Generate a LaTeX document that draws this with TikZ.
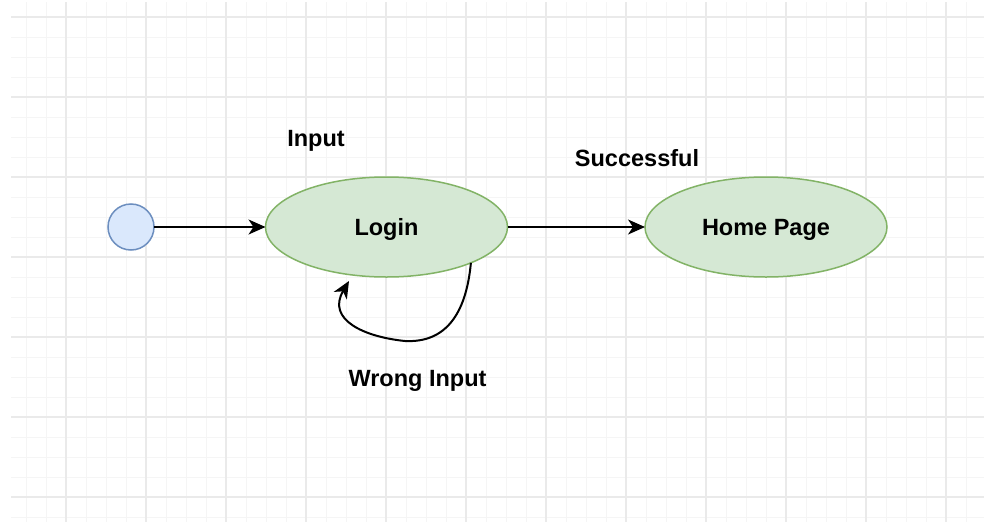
\documentclass[tikz,border=0pt]{standalone}
\usepackage{fontspec}
\setmainfont{Liberation Sans}
\usetikzlibrary{arrows.meta,shapes.geometric}
\definecolor{gridminor}{HTML}{F5F5F5}
\definecolor{gridmajor}{HTML}{EAEAEA}
\definecolor{startfill}{HTML}{DAE8FC}
\definecolor{startline}{HTML}{6C8EBF}
\definecolor{statefill}{HTML}{D5E8D4}
\definecolor{stateline}{HTML}{82B366}
\tikzset{
  lbl/.style={font=\fontsize{23.5}{28}\selectfont\bfseries, inner sep=0pt, outer sep=0pt, anchor=base},
  startnode/.style={circle, draw=startline, fill=startfill, line width=1.5pt, minimum size=46pt, inner sep=0pt, outer sep=0pt},
  statenode/.style={ellipse, draw=stateline, fill=statefill, line width=1.5pt, minimum width=242pt, minimum height=100pt, inner sep=0pt, outer sep=0pt,
    font=\fontsize{23.5}{28}\selectfont\bfseries, text height=17.6pt, text depth=0pt},
  flow/.style={draw=black, line width=2pt, -{Stealth[length=17pt,width=15pt,inset=5pt]}},
}
\begin{document}
\begin{tikzpicture}[x=1pt,y=-1pt]
\useasboundingbox (0,0) rectangle (984,522);
\fill[white] (0,0) rectangle (984,522);
% grid
\foreach \x in {26,46,86,106,126,166,186,206,246,266,286,326,346,366,406,426,446,486,506,526,566,586,606,646,666,686,726,746,766,806,826,846,886,906,926,966}
  \draw[gridminor, line width=1pt] (\x,2) -- (\x,522);
\foreach \y in {37,57,77,117,137,157,197,217,237,277,297,317,357,377,397,437,457,477,517}
  \draw[gridminor, line width=1pt] (11,\y) -- (984,\y);
\foreach \x in {66,146,226,306,386,466,546,626,706,786,866,946}
  \draw[gridmajor, line width=1.3pt] (\x,2) -- (\x,522);
\foreach \y in {17,97,177,257,337,417,497}
  \draw[gridmajor, line width=1.3pt] (11,\y) -- (984,\y);
% nodes
\node[startnode] (start) at (131,227) {};
\node[statenode] (login) at (386.5,227) {Login};
\node[statenode] (home) at (766,227) {Home Page};
\node[lbl] (input) at (316,146) {Input};
\node[lbl] (succ) at (637,166) {Successful};
\node[lbl] (wrong) at (417.5,386.5) {Wrong Input};
\coordinate (looptip) at (349,281);
% connectors
\draw[flow] (start) -- (login);
\draw[flow] (login) -- (home);
\draw[flow] (login.-23) .. controls (466,315) and (445,343) .. (405,341)
  .. controls (365,337) and (326,320) .. (looptip);
\end{tikzpicture}
\end{document}
